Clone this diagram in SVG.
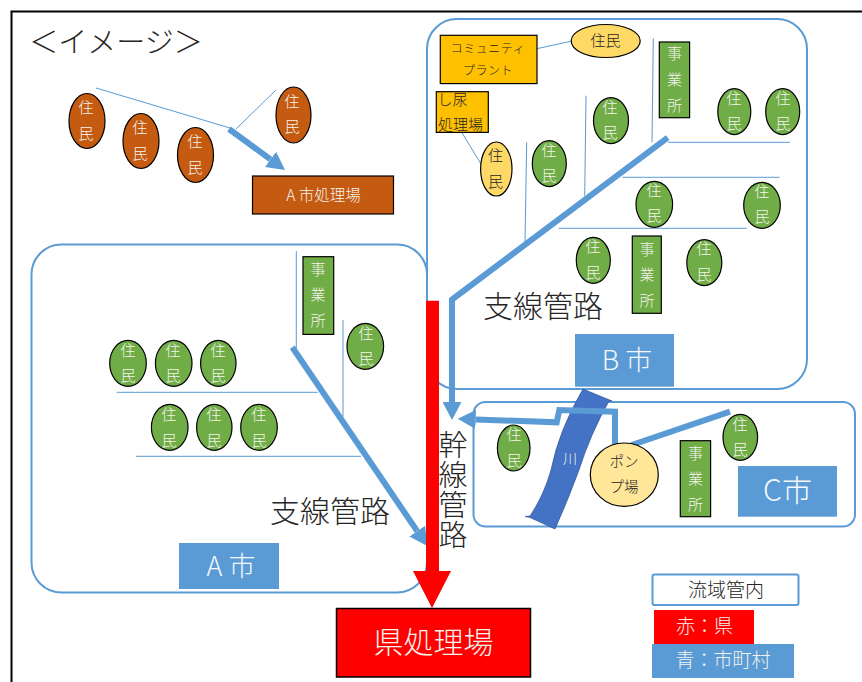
<svg xmlns="http://www.w3.org/2000/svg" width="862" height="682" viewBox="0 0 862 682">
<style>
text{font-family:"Noto Sans CJK JP","Noto Sans CJK SC",sans-serif;font-weight:300;text-anchor:middle;fill:#262626}
.w{fill:#f4f4ee}
.s15{font-size:15px}
.s12{font-size:12px}
.big{font-size:30px}
.city{font-size:27px;fill:#f4f8fc}
.vert{font-size:29px;writing-mode:vertical-rl;text-anchor:start;letter-spacing:1px}
.region{fill:none;stroke:#5b9bd5;stroke-width:2}
.res{stroke:#000;stroke-width:1.2}
.g{fill:#70ad47}
.o{fill:#c55a11}
.y{fill:#ffd966}
.am{fill:#ffc000;stroke:#000;stroke-width:1.2}
.bl{fill:#5b9bd5}
.thin{fill:none;stroke:#5b9bd5;stroke-width:1}
.pipe{fill:none;stroke:#5b9bd5;stroke-width:6}
</style>
<defs>
<marker id="h" markerUnits="userSpaceOnUse" markerWidth="18" markerHeight="19" refX="0" refY="9.5" orient="auto"><path d="M0,0L18,9.5L0,19Z" fill="#5b9bd5"/></marker>
</defs>
<rect width="862" height="682" fill="#fff"/>
<path id="frame" d="M862,11.5H11.5V682" fill="none" stroke="#000" stroke-width="2"/>
<text x="116" y="53" font-size="29">＜イメージ＞</text>

<g id="region-b"><rect class="region" x="427" y="19" width="380" height="370" rx="30"/></g>
<g id="region-a"><rect class="region" x="31.5" y="244.5" width="395.5" height="348" rx="30"/></g>
<g id="region-c"><rect class="region" x="473.5" y="402" width="381.5" height="124.5" rx="12"/></g>
<g id="river"><path d="M583,389L612,401L609,401Q590,435 579,470Q568,500 555,529L530,517.5L525,516.5L530,516Q544,495 551,470Q559,430 583,389Z" fill="#4472c4" stroke="#2f5597" stroke-width="0.7"/><text class="w" x="570" y="464" font-size="14">川</text></g>

<g id="connectors">
<path class="thin" d="M96,88L230,128M276,90L236,129"/>
<path class="pipe" marker-end="url(#h)" d="M229,129L270.5,159.4"/>
<path class="thin" d="M534,49.3L572,41M461.7,132.3L481,164M653.3,38.3L652,142.3M586,95.7L584.7,195.7M526.7,142.3L525,241.7M668,142.3H790M622.3,177.3H779.7M558.7,228.3H746.7"/>
<path class="pipe" marker-end="url(#h)" d="M667.7,137.7L452,299.5V402"/>
<path class="thin" d="M296.3,251V348.3M343,320V416.7M116.7,392.3H317.7M136,456.3H361"/>
<path class="pipe" marker-end="url(#h)" d="M292.3,347.3L417.2,531.1"/>
<path class="pipe" marker-end="url(#h)" d="M615,444V411.7L559.3,410L556.7,422.3L475.7,419.4"/>
<path class="pipe" d="M730,411.7L631.7,445"/>
<path id="trunk" d="M426,300.7H439V571H451L432,608L413,571H426Z" fill="#f00"/>
</g>

<g id="o1"><ellipse class="res o" cx="87" cy="121" rx="18" ry="27.5"/><text class="s15 w" x="86" y="113">住</text><text class="s15 w" x="86" y="139">民</text></g>
<g id="o2"><ellipse class="res o" cx="141" cy="141" rx="18" ry="27.5"/><text class="s15 w" x="140" y="133">住</text><text class="s15 w" x="140" y="159">民</text></g>
<g id="o3"><ellipse class="res o" cx="195.5" cy="155" rx="18" ry="27.5"/><text class="s15 w" x="195" y="147">住</text><text class="s15 w" x="195" y="173">民</text></g>
<g id="o4"><ellipse class="res o" cx="293.5" cy="115" rx="17.5" ry="28"/><text class="s15 w" x="292" y="107">住</text><text class="s15 w" x="292" y="132">民</text></g>
<g id="a-plant"><rect class="res o" x="252.5" y="176" width="141" height="38"/><text class="w" x="323.5" y="200.5" font-size="15.5">A 市処理場</text></g>

<g id="community-plant"><rect class="am" x="440.3" y="35.3" width="96.7" height="48.3"/><text class="s12" x="488" y="53" letter-spacing="0.5">コミュニティ</text><text class="s12" x="488" y="75" letter-spacing="0.5">プラント</text></g>
<g id="y1"><ellipse class="res y" cx="605.7" cy="41" rx="34.5" ry="16.5"/><text class="s15" x="605.5" y="45.5">住民</text></g>
<g id="night-soil"><rect class="am" x="436.3" y="91.7" width="52" height="40.7"/><text class="s15" x="452.5" y="104.5">し尿</text><text class="s15" x="460.5" y="129.5">処理場</text></g>
<g id="y2"><ellipse class="res y" cx="496.3" cy="169" rx="15.7" ry="27"/><text class="s15" x="495.5" y="161">住</text><text class="s15" x="495.5" y="187">民</text></g>

<g id="b1"><ellipse class="res g" cx="549.3" cy="163.7" rx="17" ry="23"/><text class="s15 w" x="549" y="156">住</text><text class="s15 w" x="549" y="181">民</text></g>
<g id="b2"><ellipse class="res g" cx="611" cy="120.7" rx="17.5" ry="23"/><text class="s15 w" x="610" y="113">住</text><text class="s15 w" x="610" y="138">民</text></g>
<g id="b3"><ellipse class="res g" cx="734.3" cy="111.7" rx="16.5" ry="23"/><text class="s15 w" x="734" y="104">住</text><text class="s15 w" x="734" y="129">民</text></g>
<g id="b4"><ellipse class="res g" cx="782.7" cy="111.7" rx="17" ry="23"/><text class="s15 w" x="783" y="104">住</text><text class="s15 w" x="783" y="129">民</text></g>
<g id="b5"><ellipse class="res g" cx="654.3" cy="204.3" rx="18.3" ry="23"/><text class="s15 w" x="654" y="196">住</text><text class="s15 w" x="654" y="221">民</text></g>
<g id="b6"><ellipse class="res g" cx="762" cy="205.3" rx="18.3" ry="23"/><text class="s15 w" x="762" y="197">住</text><text class="s15 w" x="762" y="222">民</text></g>
<g id="b7"><ellipse class="res g" cx="593.3" cy="260.3" rx="17" ry="23"/><text class="s15 w" x="593" y="252">住</text><text class="s15 w" x="593" y="278">民</text></g>
<g id="b8"><ellipse class="res g" cx="704.3" cy="262.7" rx="17.5" ry="23"/><text class="s15 w" x="704" y="254">住</text><text class="s15 w" x="704" y="280">民</text></g>
<g id="b-office1"><rect class="res g" x="659.3" y="42" width="30.3" height="75.7"/><text class="s15 w" x="674.5" y="58.5">事</text><text class="s15 w" x="674.5" y="84.5">業</text><text class="s15 w" x="674.5" y="110.5">所</text></g>
<g id="b-office2"><rect class="res g" x="632.3" y="236" width="29" height="77.3"/><text class="s15 w" x="647" y="254.5">事</text><text class="s15 w" x="647" y="279.5">業</text><text class="s15 w" x="647" y="305.5">所</text></g>
<text class="big" x="543" y="316.5">支線管路</text>
<g id="b-label"><rect class="bl" x="575" y="334" width="99" height="52.7"/><text class="city" x="627" y="370">B 市</text></g>

<g id="c1"><ellipse class="res g" cx="513.7" cy="448" rx="16.3" ry="23"/><text class="s15 w" x="514" y="440">住</text><text class="s15 w" x="514" y="465.5">民</text></g>
<g id="c2"><ellipse class="res g" cx="740.3" cy="437.3" rx="17.3" ry="23"/><text class="s15 w" x="740" y="429.5">住</text><text class="s15 w" x="740" y="455">民</text></g>
<g id="pump"><ellipse class="res" fill="#ffe699" cx="624.3" cy="474.7" rx="34" ry="31.7"/><text x="624" y="466.5" font-size="14.5">ポン</text><text x="624" y="491.5" font-size="14.5">プ場</text></g>
<g id="c-office"><rect class="res g" x="680.3" y="440.7" width="30.3" height="76"/><text class="s15 w" x="695.5" y="458.5">事</text><text class="s15 w" x="695.5" y="483.5">業</text><text class="s15 w" x="695.5" y="509.5">所</text></g>
<g id="c-label"><rect class="bl" x="738" y="466" width="99" height="50.7"/><text class="city" x="787.5" y="500.5" style="font-size:30px">C市</text></g>

<g id="a1"><ellipse class="res g" cx="128" cy="363.3" rx="18.3" ry="23"/><text class="s15 w" x="128" y="355.5">住</text><text class="s15 w" x="128" y="380.5">民</text></g>
<g id="a2"><ellipse class="res g" cx="173.7" cy="363.3" rx="18.3" ry="23"/><text class="s15 w" x="173" y="355.5">住</text><text class="s15 w" x="173" y="380.5">民</text></g>
<g id="a3"><ellipse class="res g" cx="218.3" cy="363.3" rx="17.7" ry="23"/><text class="s15 w" x="218" y="355.5">住</text><text class="s15 w" x="218" y="380.5">民</text></g>
<g id="a4"><ellipse class="res g" cx="169.7" cy="427.3" rx="18.3" ry="23"/><text class="s15 w" x="169" y="420">住</text><text class="s15 w" x="169" y="445.5">民</text></g>
<g id="a5"><ellipse class="res g" cx="214.3" cy="427.3" rx="17.7" ry="23"/><text class="s15 w" x="214" y="420">住</text><text class="s15 w" x="214" y="445.5">民</text></g>
<g id="a6"><ellipse class="res g" cx="259" cy="427.3" rx="18.3" ry="23"/><text class="s15 w" x="259" y="420">住</text><text class="s15 w" x="259" y="445.5">民</text></g>
<g id="a7"><ellipse class="res g" cx="365.3" cy="346.3" rx="18.3" ry="23"/><text class="s15 w" x="366" y="338.5">住</text><text class="s15 w" x="366" y="363.5">民</text></g>
<g id="a-office"><rect class="res g" x="303" y="256.7" width="30.7" height="77.7"/><text class="s15 w" x="318" y="274.5">事</text><text class="s15 w" x="318" y="299.5">業</text><text class="s15 w" x="318" y="325.5">所</text></g>
<text class="big" x="330" y="521.5">支線管路</text>
<g id="a-label"><rect class="bl" x="179" y="543" width="100" height="46"/><text class="city" x="231" y="575.5">A 市</text></g>

<g id="trunk-label"><text class="vert" x="453" y="430">幹線管路</text></g>
<g id="pref-plant"><rect x="336.5" y="608.5" width="194" height="68.5" fill="#f00" stroke="#000" stroke-width="1.5"/><text class="w" x="433.5" y="652.5" font-size="30">県処理場</text></g>
<g id="legend-area"><rect x="652.5" y="574.5" width="146" height="30.5" rx="2" fill="#fff" stroke="#5b9bd5" stroke-width="2"/><text x="726" y="597" font-size="19">流域管内</text></g>
<g id="legend-red"><rect x="654" y="610" width="100" height="34" fill="#f00"/><text class="w" x="704.5" y="633" font-size="19">赤：県</text></g>
<g id="legend-blue"><rect class="bl" x="652" y="644" width="142" height="34"/><text class="w" x="723" y="667" font-size="19">青：市町村</text></g>
</svg>
